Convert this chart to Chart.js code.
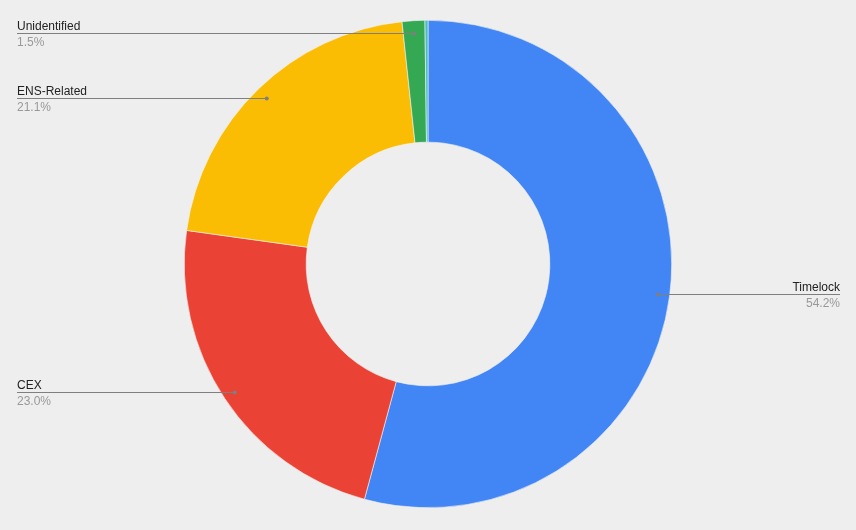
<!DOCTYPE html>
<html>
<head>
<meta charset="utf-8">
<script src="https://cdn.jsdelivr.net/npm/chart.js@4/dist/chart.umd.min.js"></script>
<style>
html,body{margin:0;padding:0;background:#eeeeee;}
#wrap{width:856px;height:530px;position:relative;}
</style>
</head>
<body>
<div id="wrap"><canvas id="c" width="856" height="530"></canvas></div>
<script>
const categories = ["Timelock", "CEX", "ENS-Related", "Unidentified", "Other"];
const values = [54.2, 23.0, 21.1, 1.5, 0.2];
const percentLabels = ["54.2%", "23.0%", "21.1%", "1.5%", ""];
const colors = ["#4285F4", "#EA4335", "#FBBC04", "#34A853", "#46BDC6"];
const showLabel = [true, true, true, true, false];

const leaderPlugin = {
  id: 'leaders',
  afterDatasetsDraw(chart) {
    const ctx = chart.ctx;
    const meta = chart.getDatasetMeta(0);
    meta.data.forEach((arc, i) => {
      if (!showLabel[i]) return;
      const p = arc.getProps(['startAngle','endAngle','x','y','outerRadius'], true);
      const mid = (p.startAngle + p.endAngle) / 2;
      const r = p.outerRadius - 12;
      const px = p.x + Math.cos(mid) * r;
      const py = p.y + Math.sin(mid) * r;
      const right = Math.cos(mid) > 0;
      const lx = right ? 840 : 17;
      ctx.save();
      ctx.strokeStyle = '#7f7f7f';
      ctx.lineWidth = 1;
      ctx.beginPath();
      ctx.moveTo(lx, Math.round(py) + 0.5);
      ctx.lineTo(px, Math.round(py) + 0.5);
      ctx.stroke();
      ctx.fillStyle = '#7f7f7f';
      ctx.beginPath();
      ctx.arc(px, Math.round(py) + 0.5, 2, 0, Math.PI * 2);
      ctx.fill();
      ctx.font = '12px "Liberation Sans", Arial, sans-serif';
      ctx.textAlign = right ? 'right' : 'left';
      ctx.textBaseline = 'alphabetic';
      ctx.fillStyle = '#222222';
      ctx.fillText(categories[i], lx, Math.round(py) - 3);
      ctx.fillStyle = '#999999';
      ctx.fillText(percentLabels[i], lx, Math.round(py) + 13);
      ctx.restore();
    });
  }
};

new Chart(document.getElementById('c'), {
  type: 'doughnut',
  data: {
    labels: categories,
    datasets: [{
      data: values,
      backgroundColor: colors,
      borderColor: '#f4f4f4',
      borderWidth: 0.6
    }]
  },
  options: {
    responsive: false,
    animation: false,
    cutout: '50%',
    layout: { padding: { top: 20, bottom: 22, left: 0, right: 0 } },
    plugins: { legend: { display: false }, tooltip: { enabled: false } }
  },
  plugins: [leaderPlugin]
});
</script>
</body>
</html>
